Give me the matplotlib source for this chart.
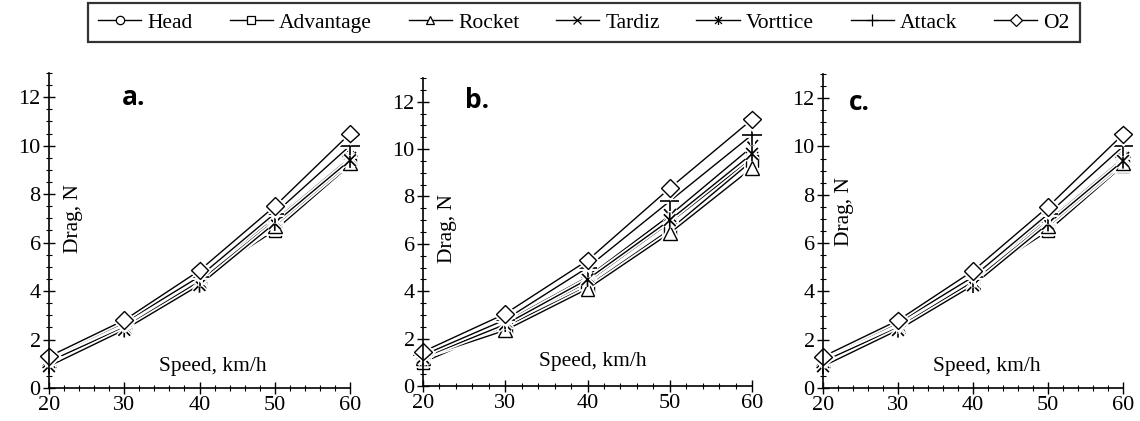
import matplotlib
matplotlib.use("Agg")
import matplotlib.pyplot as plt
import matplotlib.patheffects as pe
from matplotlib.path import Path
from matplotlib.ticker import MultipleLocator
import numpy as np

speed = [20, 30, 40, 50, 60]
series_names = ["Head", "Advantage", "Rocket", "Tardiz", "Vorttice", "Attack", "O2"]

# Panel a
a_head = [1.2, 2.6, 4.6, 7.0, 9.5]
a_advantage = [1.15, 2.55, 4.5, 6.5, 9.2]
a_rocket = [1.15, 2.55, 4.4, 6.7, 9.3]
a_tardiz = [1.1, 2.5, 4.4, 6.9, 9.5]
a_vorttice = [0.9, 2.4, 4.25, 6.8, 9.4]
a_attack = [1.25, 2.7, 4.6, 7.2, 10.0]
a_o2 = [1.3, 2.8, 4.85, 7.5, 10.5]

# Panel b
b_head = [1.1, 2.5, 4.4, 6.9, 9.6]
b_advantage = [1.0, 2.5, 4.2, 6.6, 9.5]
b_rocket = [1.2, 2.35, 4.1, 6.45, 9.2]
b_tardiz = [1.2, 2.7, 4.6, 7.2, 10.1]
b_vorttice = [1.2, 2.6, 4.5, 7.0, 9.8]
b_attack = [1.3, 2.8, 5.0, 7.8, 10.6]
b_o2 = [1.45, 3.05, 5.3, 8.35, 11.25]

# Panel c
c_head = [1.2, 2.6, 4.6, 7.0, 9.5]
c_advantage = [1.15, 2.55, 4.5, 6.5, 9.2]
c_rocket = [1.15, 2.55, 4.4, 6.7, 9.3]
c_tardiz = [1.1, 2.5, 4.4, 6.9, 9.5]
c_vorttice = [0.9, 2.4, 4.25, 6.8, 9.4]
c_attack = [1.25, 2.7, 4.6, 7.2, 10.0]
c_o2 = [1.3, 2.8, 4.85, 7.5, 10.5]

panels = [
    ("a.", [a_head, a_advantage, a_rocket, a_tardiz, a_vorttice, a_attack, a_o2]),
    ("b.", [b_head, b_advantage, b_rocket, b_tardiz, b_vorttice, b_attack, b_o2]),
    ("c.", [c_head, c_advantage, c_rocket, c_tardiz, c_vorttice, c_attack, c_o2]),
]

star = Path([(-1, -1), (1, 1), (-1, 1), (1, -1), (0, -1.3), (0, 1.3)],
            [Path.MOVETO, Path.LINETO, Path.MOVETO, Path.LINETO, Path.MOVETO, Path.LINETO])

styles = [
    dict(marker="o", ms=10, mfc="white"),
    dict(marker="s", ms=9, mfc="white"),
    dict(marker="^", ms=10, mfc="white"),
    dict(marker="x", ms=9, mew=1.2),
    dict(marker=star, ms=11, mew=1.2),
    dict(marker="+", ms=14, mew=1.2),
    dict(marker="D", ms=9, mfc="white"),
]
legend_ms = [6, 5.5, 6, 6, 6.5, 8, 6]

plt.rcParams["font.family"] = ["Liberation Serif", "DejaVu Serif"]
fig = plt.figure(figsize=(11.4, 4.21), dpi=100)

W, H = 1140, 421
axes_px = [(49, 350, 73, 388), (423, 752, 78, 386), (823, 1123, 74, 388)]
# text positions (data coords) per panel: panel label, Drag label, Speed label
label_pos = [(31.2, 12.0), (26.6, 12.05), (24.9, 11.8)]
drag_pos = [(23.2, 7.0), (23.0, 6.65), (22.9, 7.3)]
speed_pos = [(41.8, 0.87), (40.7, 1.05), (41.9, 0.87)]

handles = []
for i, ((lab, data), (x0, x1, yt, yb)) in enumerate(zip(panels, axes_px)):
    ax = fig.add_axes([x0 / W, 1 - yb / H, (x1 - x0) / W, (yb - yt) / H])
    for name, ys, st in zip(series_names, data, styles):
        h, = ax.plot(speed, ys, color="black", lw=1.0, mec="black", label=name,
                     path_effects=[pe.Stroke(linewidth=3.5, foreground="white"), pe.Normal()],
                     **st)
        if i == 0:
            handles.append(h)
    ax.set_xlim(20, 60)
    ax.set_ylim(0, 13)
    ax.set_xticks([20, 30, 40, 50, 60])
    ax.set_yticks([0, 2, 4, 6, 8, 10, 12])
    ax.xaxis.set_minor_locator(MultipleLocator(2))
    ax.yaxis.set_minor_locator(MultipleLocator(0.5))
    for s in ["top", "right"]:
        ax.spines[s].set_visible(False)
    ax.spines["left"].set_linewidth(1.2)
    ax.spines["bottom"].set_linewidth(1.2)
    ax.tick_params(which="major", direction="inout", length=8, width=1, labelsize=16, pad=2)
    ax.tick_params(which="minor", direction="inout", length=5, width=0.8)
    ax.patch.set_alpha(0)
    for ln in ax.lines:
        ln.set_clip_on(False)
    ax.text(*drag_pos[i], "Drag, N", rotation=90, ha="center", va="center", fontsize=15.5)
    ax.text(*speed_pos[i], "Speed, km/h", ha="center", va="center", fontsize=15.5)
    ax.text(*label_pos[i], lab, ha="center", va="center", fontsize=19, fontweight="bold",
            family=["Open Sans", "DejaVu Sans"])

leg = fig.legend(handles=handles, loc="upper center", bbox_to_anchor=(584 / W, 1 - 3 / H),
                 ncol=7, frameon=True, fancybox=False, edgecolor="black", fontsize=15.5,
                 handlelength=2.0, handletextpad=0.3, columnspacing=1.7, borderpad=0.45,
                 borderaxespad=0)
leg.get_frame().set_linewidth(1.6)
for lh, ms in zip(leg.legend_handles, legend_ms):
    lh.set_path_effects([])
    lh.set_markersize(ms)
    lh.set_markeredgewidth(0.9)

fig.savefig("out.png", dpi=100)
